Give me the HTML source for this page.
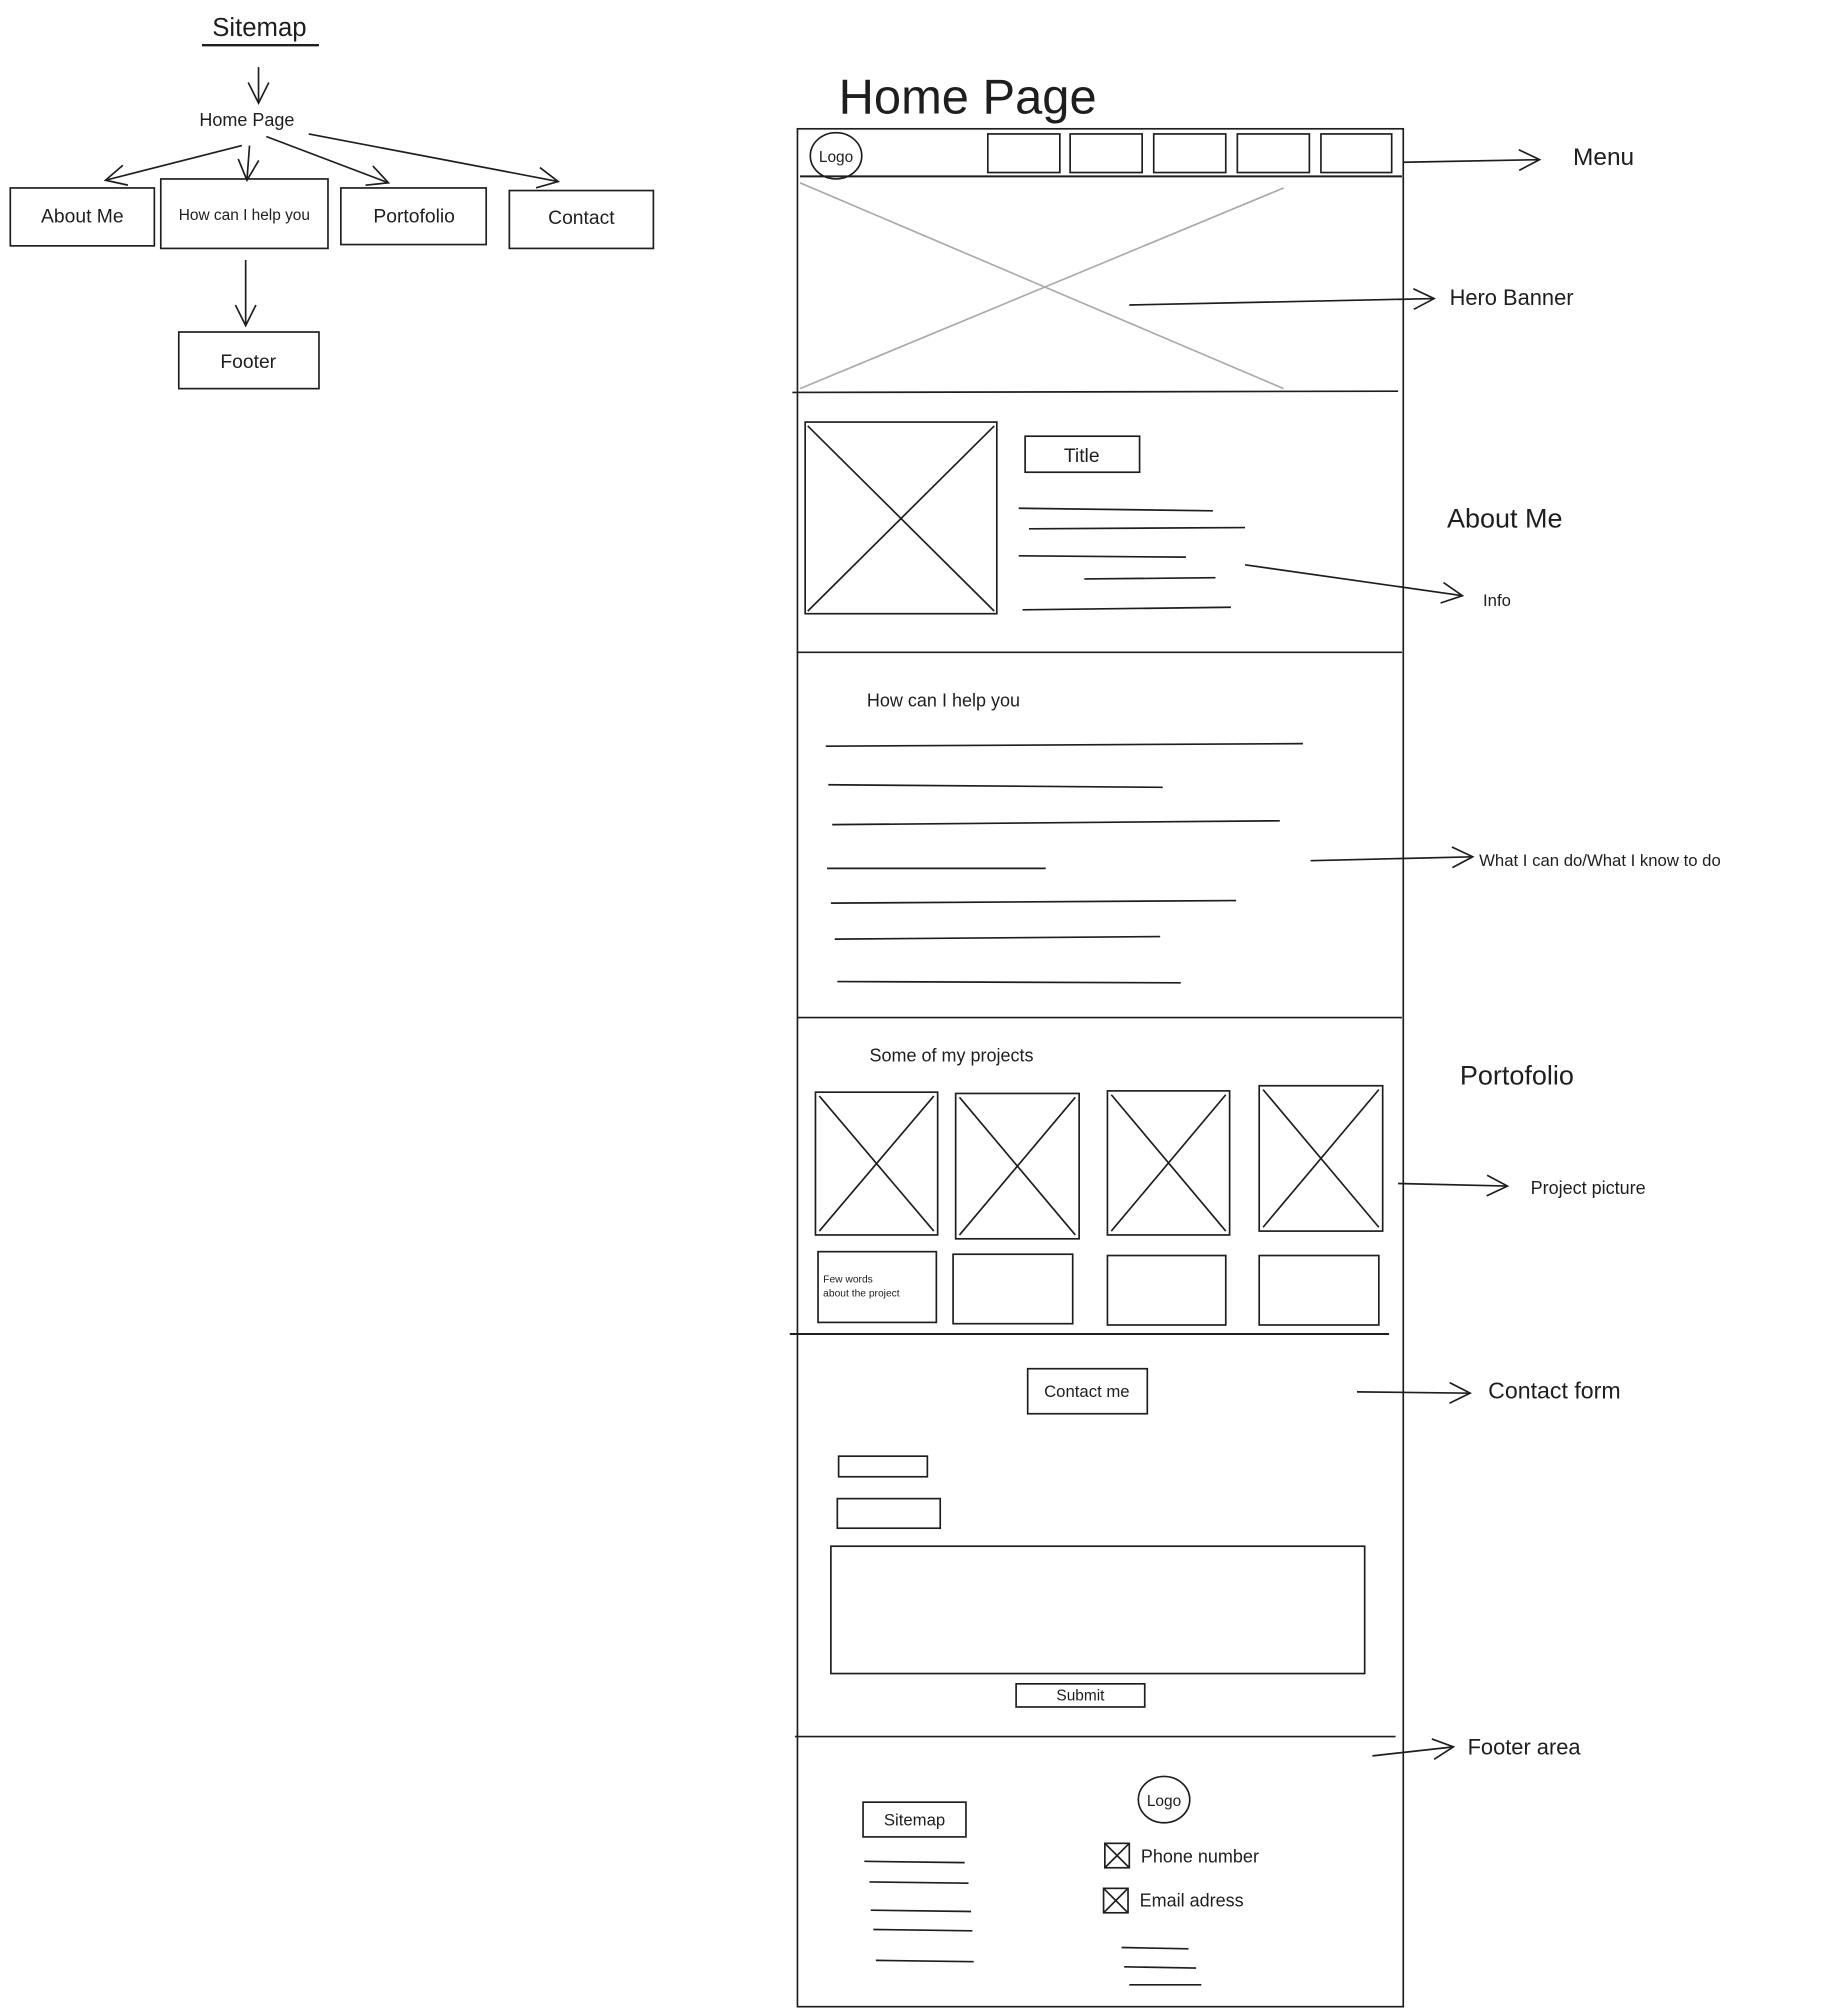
<!DOCTYPE html>
<html><head><meta charset="utf-8"><style>
html,body{margin:0;padding:0;background:#fff;}
svg{display:block;}
text{font-family:"Liberation Sans",sans-serif;fill:#1e1e1e;}
</style></head><body>
<svg width="1829" height="2012" viewBox="0 0 1422 1564" xmlns="http://www.w3.org/2000/svg">
<defs>
<marker id="a" markerWidth="20" markerHeight="20" refX="18" refY="10" orient="auto" markerUnits="userSpaceOnUse">
<path d="M2,2 L18,10 L2,18" fill="none" stroke="#1e1e1e" stroke-width="1.3"/>
</marker>
</defs>
<g fill="none" stroke="#1e1e1e" stroke-width="1.3">
<!-- sitemap -->
<line x1="157" y1="35" x2="248" y2="35" stroke-width="1.8"/>
<line x1="201" y1="52" x2="201" y2="80" marker-end="url(#a)"/>
<line x1="188" y1="113" x2="82" y2="140" marker-end="url(#a)"/>
<line x1="194" y1="113" x2="192" y2="140" marker-end="url(#a)"/>
<line x1="207" y1="106" x2="302" y2="142" marker-end="url(#a)"/>
<line x1="240" y1="104" x2="434" y2="141" marker-end="url(#a)"/>
<rect x="8" y="146" width="112" height="45"/>
<rect x="125" y="139" width="130" height="54"/>
<rect x="265" y="146" width="113" height="44"/>
<rect x="396" y="148" width="112" height="45"/>
<line x1="191" y1="202" x2="191" y2="253" marker-end="url(#a)"/>
<rect x="139" y="258" width="109" height="44"/>
<!-- frame -->
<rect x="620" y="100" width="471" height="1460"/>
<line x1="622" y1="137" x2="1090" y2="137" stroke-width="1.6"/>
<ellipse cx="650" cy="121" rx="20" ry="18"/>
<rect x="768" y="104" width="56" height="30"/>
<rect x="832" y="104" width="56" height="30"/>
<rect x="897" y="104" width="56" height="30"/>
<rect x="962" y="104" width="56" height="30"/>
<rect x="1027" y="104" width="55" height="30"/>
<line x1="1091" y1="126" x2="1197" y2="124" marker-end="url(#a)"/>
<line x1="622" y1="142" x2="998" y2="302" stroke="#aaa"/>
<line x1="622" y1="302" x2="998" y2="146" stroke="#aaa"/>
<line x1="616" y1="305" x2="1087" y2="304"/>
<line x1="878" y1="237" x2="1115" y2="232" marker-end="url(#a)"/>
<rect x="626" y="328" width="149" height="149"/>
<line x1="628" y1="331" x2="773" y2="475"/><line x1="773" y1="331" x2="628" y2="475"/>
<rect x="797" y="339" width="89" height="28"/>
<line x1="792" y1="395" x2="943" y2="397"/>
<line x1="800" y1="411" x2="968" y2="410"/>
<line x1="792" y1="432" x2="922" y2="433"/>
<line x1="843" y1="450" x2="945" y2="449"/>
<line x1="795" y1="474" x2="957" y2="472"/>
<line x1="968" y1="439" x2="1137" y2="463" marker-end="url(#a)"/>
<line x1="620" y1="507" x2="1090" y2="507"/>
<line x1="642" y1="580" x2="1013" y2="578"/>
<line x1="644" y1="610" x2="904" y2="612"/>
<line x1="647" y1="641" x2="995" y2="638"/>
<line x1="643" y1="675" x2="813" y2="675"/>
<line x1="646" y1="702" x2="961" y2="700"/>
<line x1="649" y1="730" x2="902" y2="728"/>
<line x1="651" y1="763" x2="918" y2="764"/>
<line x1="1019" y1="669" x2="1145" y2="666" marker-end="url(#a)"/>
<line x1="620" y1="791" x2="1090" y2="791"/>
<rect x="634" y="849" width="95" height="111"/>
<line x1="637" y1="852" x2="726" y2="957"/><line x1="726" y1="852" x2="637" y2="957"/>
<rect x="743" y="850" width="96" height="113"/>
<line x1="746" y1="853" x2="836" y2="960"/><line x1="836" y1="853" x2="746" y2="960"/>
<rect x="861" y="848" width="95" height="112"/>
<line x1="864" y1="851" x2="953" y2="957"/><line x1="953" y1="851" x2="864" y2="957"/>
<rect x="979" y="844" width="96" height="113"/>
<line x1="982" y1="847" x2="1072" y2="954"/><line x1="1072" y1="847" x2="982" y2="954"/>
<rect x="636" y="973" width="92" height="55"/>
<rect x="741" y="975" width="93" height="54"/>
<rect x="861" y="976" width="92" height="54"/>
<rect x="979" y="976" width="93" height="54"/>
<line x1="1087" y1="920" x2="1172" y2="922" marker-end="url(#a)"/>
<line x1="614" y1="1037" x2="1080" y2="1037" stroke-width="1.6"/>
<rect x="799" y="1064" width="93" height="35"/>
<line x1="1055" y1="1082" x2="1143" y2="1083" marker-end="url(#a)"/>
<rect x="652" y="1132" width="69" height="16"/>
<rect x="651" y="1165" width="80" height="23"/>
<rect x="646" y="1202" width="415" height="99"/>
<rect x="790" y="1309" width="100" height="18"/>
<line x1="618" y1="1350" x2="1085" y2="1350"/>
<line x1="1067" y1="1365" x2="1130" y2="1358" marker-end="url(#a)"/>
<ellipse cx="905" cy="1399" rx="20" ry="18"/>
<rect x="671" y="1401" width="80" height="27"/>
<line x1="672" y1="1447" x2="750" y2="1448"/>
<line x1="676" y1="1463" x2="753" y2="1464"/>
<line x1="677" y1="1485" x2="755" y2="1486"/>
<line x1="679" y1="1500" x2="756" y2="1501"/>
<line x1="681" y1="1524" x2="757" y2="1525"/>
<rect x="859" y="1433" width="19" height="19"/>
<line x1="859" y1="1433" x2="878" y2="1452"/><line x1="878" y1="1433" x2="859" y2="1452"/>
<rect x="858" y="1468" width="19" height="19"/>
<line x1="858" y1="1468" x2="877" y2="1487"/><line x1="877" y1="1468" x2="858" y2="1487"/>
<line x1="872" y1="1514" x2="924" y2="1515"/>
<line x1="874" y1="1529" x2="930" y2="1530"/>
<line x1="878" y1="1543" x2="934" y2="1543"/>
</g>
<g>
<text x="165" y="28" font-size="20">Sitemap</text>
<text x="155" y="98" font-size="14">Home Page</text>
<text x="64" y="173" font-size="15" text-anchor="middle">About Me</text>
<text x="190" y="171" font-size="12" text-anchor="middle">How can I help you</text>
<text x="322" y="173" font-size="15" text-anchor="middle">Portofolio</text>
<text x="452" y="174" font-size="15" text-anchor="middle">Contact</text>
<text x="193" y="286" font-size="15" text-anchor="middle">Footer</text>
<text x="652" y="88" font-size="38">Home Page</text>
<text x="650" y="126" font-size="12" text-anchor="middle">Logo</text>
<text x="1223" y="128" font-size="19">Menu</text>
<text x="1127" y="237" font-size="17">Hero Banner</text>
<text x="841" y="359" font-size="15" text-anchor="middle">Title</text>
<text x="1125" y="410" font-size="21">About Me</text>
<text x="1153" y="471" font-size="13">Info</text>
<text x="674" y="549" font-size="14">How can I help you</text>
<text x="1150" y="673" font-size="13">What I can do/What I know to do</text>
<text x="676" y="825" font-size="14">Some of my projects</text>
<text x="1135" y="843" font-size="21">Portofolio</text>
<text x="1190" y="928" font-size="14">Project picture</text>
<text x="640" y="997" font-size="8">Few words</text>
<text x="640" y="1008" font-size="8">about the project</text>
<text x="845" y="1086" font-size="13" text-anchor="middle">Contact me</text>
<text x="1157" y="1087" font-size="18">Contact form</text>
<text x="840" y="1322" font-size="12" text-anchor="middle">Submit</text>
<text x="1141" y="1364" font-size="17">Footer area</text>
<text x="905" y="1404" font-size="12" text-anchor="middle">Logo</text>
<text x="711" y="1419" font-size="13" text-anchor="middle">Sitemap</text>
<text x="887" y="1448" font-size="14">Phone number</text>
<text x="886" y="1482" font-size="14">Email adress</text>
</g>
</svg>
</body></html>
